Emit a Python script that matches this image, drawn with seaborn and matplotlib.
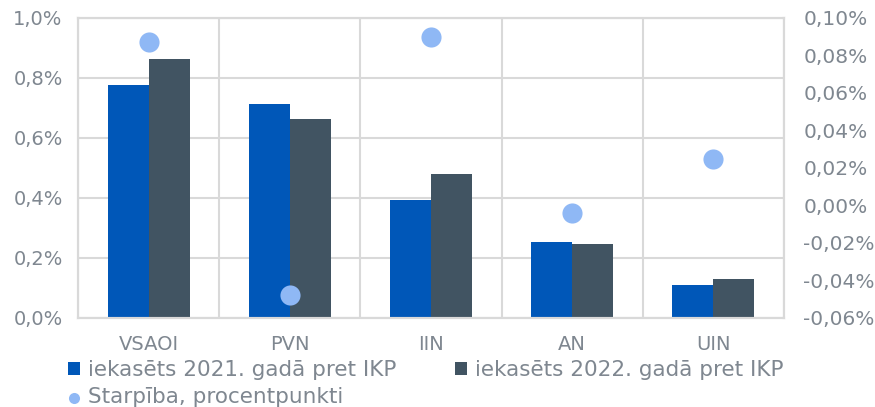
import numpy as np
import pandas as pd
import matplotlib
matplotlib.use("Agg")
import matplotlib.pyplot as plt
from matplotlib.ticker import FuncFormatter, MultipleLocator
import seaborn as sns

# Data (percent of GDP)
categories = ["VSAOI", "PVN", "IIN", "AN", "UIN"]
val_2021 = [0.777, 0.713, 0.393, 0.253, 0.110]
val_2022 = [0.863, 0.663, 0.480, 0.247, 0.130]
difference = [0.087, -0.048, 0.090, -0.004, 0.025]

label_2021 = "iekasēts 2021. gadā pret IKP"
label_2022 = "iekasēts 2022. gadā pret IKP"
label_diff = "Starpība, procentpunkti"

c_2021 = "#0057b8"
c_2022 = "#415462"
c_diff = "#8fb8f5"
c_text = "#7f8790"
c_grid = "#d9d9d9"

df = pd.DataFrame({
    "cat": categories * 2,
    "value": val_2021 + val_2022,
    "series": [label_2021] * 5 + [label_2022] * 5,
})

sns.set_style("white")
plt.rcParams["font.family"] = ["DejaVu Sans"]

fig = plt.figure(figsize=(8.75, 4.07), dpi=100)
ax = fig.add_axes([0.0891, 0.2187, 0.8069, 0.7371])

sns.barplot(data=df, x="cat", y="value", hue="series", order=categories,
            palette=[c_2021, c_2022], saturation=1, width=0.58, gap=0,
            linewidth=0, ax=ax)
handles, labels = ax.get_legend_handles_labels()
ax.get_legend().remove()

ax.set_xlim(-0.5, len(categories) - 0.5)
ax.set_ylim(0, 1.0)
ax.yaxis.set_major_locator(MultipleLocator(0.2))
ax.yaxis.set_major_formatter(FuncFormatter(lambda v, p: f"{v:.1f}%".replace(".", ",")))
ax.set_xticks(np.arange(-0.5, len(categories)), minor=True)
ax.grid(axis="y", which="major", color=c_grid, lw=1.5)
ax.grid(axis="x", which="minor", color=c_grid, lw=1.5)
ax.set_axisbelow(True)
ax.set_xlabel("")
ax.set_ylabel("")
ax.tick_params(axis="both", which="both", length=0, labelsize=14, labelcolor=c_text)
ax.tick_params(axis="y", pad=11)
ax.tick_params(axis="x", pad=12)
for s in ax.spines.values():
    s.set_color(c_grid)
    s.set_linewidth(1.5)

ax2 = ax.twinx()
sns.scatterplot(x=np.arange(len(categories)), y=difference, color=c_diff,
                s=210, linewidth=0, ax=ax2, label=label_diff, zorder=5)
h2, l2 = ax2.get_legend_handles_labels()
ax2.get_legend().remove()
ax2.set_ylim(-0.06, 0.10)
ax2.yaxis.set_major_locator(MultipleLocator(0.02))
ax2.yaxis.set_major_formatter(FuncFormatter(lambda v, p: f"{v:.2f}%".replace(".", ",")))
ax2.tick_params(axis="y", length=0, labelsize=14.5, labelcolor=c_text, pad=14)
ax2.grid(False)
for s in ax2.spines.values():
    s.set_color(c_grid)
    s.set_linewidth(1.5)

leg = fig.legend([handles[0], h2[0], handles[1]], [labels[0], l2[0], labels[1]],
                 ncol=2, loc="upper left", bbox_to_anchor=(0.078, 0.115),
                 frameon=False, fontsize=15.5, handlelength=0.55, handleheight=0.55,
                 handletextpad=0.35, columnspacing=2.75, labelspacing=0.3,
                 borderpad=0, borderaxespad=0, markerscale=0.55)
for t in leg.get_texts():
    t.set_color(c_text)

fig.savefig("out.png", dpi=100)
